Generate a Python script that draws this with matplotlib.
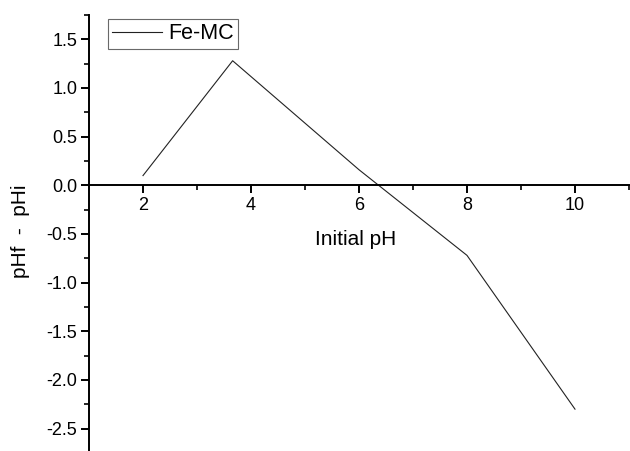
import matplotlib
matplotlib.use('Agg')
import matplotlib.pyplot as plt
from matplotlib.ticker import MultipleLocator

plt.rcParams['font.family'] = ['Liberation Sans', 'DejaVu Sans']

initial_ph = [2.0, 3.66, 6.0, 8.0, 10.0]
delta_ph = [0.1, 1.28, 0.16, -0.72, -2.3]
series_name = 'Fe-MC'

fig = plt.figure(figsize=(6.3, 4.51), dpi=100)
ax = fig.add_axes([89 / 630, 0.0, 540 / 630, 436 / 451])

ax.plot(initial_ph, delta_ph, color='#222222', linewidth=0.8, label=series_name)

ax.set_xlim(1, 11.0)
ax.set_ylim(-2.73, 1.75)

# origin-style axes: x axis sits on y = 0
ax.spines['bottom'].set_position(('data', 0))
ax.spines['top'].set_visible(False)
ax.spines['right'].set_visible(False)
for s in ('left', 'bottom'):
    ax.spines[s].set_linewidth(1.4)

ax.xaxis.set_major_locator(MultipleLocator(2))
ax.xaxis.set_minor_locator(MultipleLocator(1))
ax.yaxis.set_major_locator(MultipleLocator(0.5))
ax.yaxis.set_minor_locator(MultipleLocator(0.25))
ax.set_xticks([2, 4, 6, 8, 10])
ax.tick_params(which='major', direction='out', length=6, width=1.4, labelsize=13, pad=2.5)
ax.tick_params(which='minor', direction='out', length=3.5, width=1.2)
ax.yaxis.set_major_formatter(plt.FuncFormatter(lambda v, p: f'{v:.1f}'))

ax.set_xlabel('Initial pH', fontsize=15)
ax.xaxis.set_label_coords(0.493, 0.485)
ax.xaxis.label.set_va('center')
ax.set_ylabel('pHf  -  pHi', fontsize=15)
ax.yaxis.set_label_coords(-0.126, 0.503)
ax.yaxis.label.set_va('center')

leg = ax.legend(loc='upper left', bbox_to_anchor=(0.035, 1 - 4 / 436), fontsize=15.5,
                frameon=True, fancybox=False, handlelength=2.3,
                borderpad=0.2, handletextpad=0.3, borderaxespad=0)
leg.get_frame().set_edgecolor('#444444')
leg.get_frame().set_linewidth(0.8)

fig.savefig('out.png', dpi=100)
